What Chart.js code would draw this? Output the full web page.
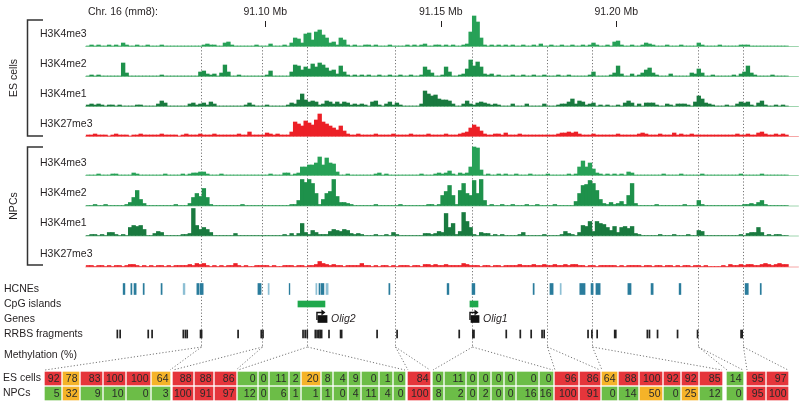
<!DOCTYPE html>
<html><head><meta charset="utf-8">
<script src="https://cdn.jsdelivr.net/npm/chart.js@4/dist/chart.umd.min.js"></script>
<style>html,body{margin:0;padding:0;background:#fff;}canvas{display:block;}</style>
</head><body>
<canvas id="c" width="800" height="404"></canvas>
<script>
// ================= DATA =================
const chromLabel = 'Chr. 16 (mm8):';
const tickKb = [91100, 91150, 91200];
const tickLabels = ['91.10 Mb', '91.15 Mb', '91.20 Mb'];
const binStartKb = 91049;   // first 1-kb bin
const binKb = 1;

const cellGroups = ['ES cells', 'NPCs'];
const trackNames = ['H3K4me3', 'H3K4me2', 'H3K4me1', 'H3K27me3'];

const esK4me3 = [
 0,1,0,1,0,0,1,0,1,0,3,1,0,0,1,0,0,1,0,0,
 0,1,0,0,0,0,0,0,0,0,0,0,0,1,2,1,1,0,0,3,
 4,1,0,0,0,0,0,0,1,0,0,0,2,0,0,0,1,0,3,8,
 7,3,12,13,6,14,16,11,8,3,4,1,8,6,1,0,1,0,0,1,
 1,0,1,0,0,0,1,0,0,0,0,1,0,1,0,1,2,0,0,1,
 1,0,1,0,1,0,0,1,2,14,30,24,8,1,0,1,0,1,0,1,
 0,1,0,0,1,0,0,1,0,2,0,0,1,0,0,1,0,0,1,0,
 0,1,0,1,3,1,0,0,1,0,4,5,1,0,0,1,0,0,1,3,
 2,1,0,0,0,1,0,0,0,1,0,0,0,0,3,1,0,0,0,0,
 1,0,0,0,0,0,1,1,1,0,0,0,0,0,0,0,0,0,0,0];
const esK4me2 = [
 0,1,0,1,0,0,0,0,0,0,13,3,0,0,0,0,0,0,0,0,
 0,1,0,0,0,0,0,0,0,0,0,0,4,5,2,1,2,0,3,11,
 4,0,0,1,0,0,0,0,0,0,0,1,5,0,0,0,0,0,4,11,
 10,6,9,7,12,9,13,11,8,5,6,2,10,4,1,0,1,0,1,0,
 1,0,0,1,0,0,1,0,0,1,0,0,1,0,0,1,9,6,3,0,
 0,1,9,4,0,0,1,2,7,16,10,14,9,2,1,2,0,1,0,0,
 0,1,0,0,1,0,0,1,0,0,1,0,0,0,1,0,0,1,0,0,
 0,0,0,1,4,0,0,0,0,1,3,10,2,0,0,2,0,1,3,6,
 8,3,1,0,0,0,2,0,0,0,0,0,3,2,7,3,0,0,1,0,
 0,0,0,0,1,0,2,4,10,3,1,0,0,0,0,1,0,0,0,0];
const esK4me1 = [
 1,2,1,2,1,0,1,1,0,1,0,0,0,0,1,1,0,0,0,0,
 2,5,3,0,0,0,0,0,0,2,3,1,2,3,1,4,2,0,0,0,
 0,0,0,0,0,1,3,1,0,0,0,1,0,0,0,0,0,1,3,2,
 6,12,6,4,5,4,1,2,5,4,2,4,2,4,3,1,2,1,2,1,
 0,4,5,1,0,2,4,1,3,1,0,0,0,0,0,2,15,12,10,11,
 7,6,6,5,2,0,0,2,5,2,1,3,4,3,2,1,2,1,0,0,
 0,2,0,0,0,2,0,0,0,0,2,0,0,0,1,2,2,4,7,2,
 5,4,1,2,3,0,1,0,1,0,0,1,0,3,5,3,0,2,0,3,
 3,3,1,0,0,2,1,0,2,2,2,1,0,4,10,7,3,2,1,0,
 0,0,1,0,0,2,4,3,4,1,0,3,5,1,0,0,1,0,1,0];
const esK27me3 = [
 1,1,2,1,1,1,0,1,2,1,1,1,0,1,1,2,1,1,1,1,
 1,2,1,1,1,1,0,1,2,1,1,1,2,1,1,1,2,1,1,1,
 1,1,1,2,1,1,4,1,1,1,1,3,2,1,2,1,1,1,4,14,
 12,10,15,13,11,16,22,14,12,10,8,6,10,5,2,1,1,2,1,1,
 1,1,2,1,1,1,1,2,1,1,1,1,2,1,1,1,1,2,1,1,
 1,1,2,1,1,1,2,3,4,8,11,9,5,2,1,1,2,2,1,3,
 1,1,1,2,1,1,1,1,1,1,1,1,1,1,2,3,3,4,3,4,
 2,1,1,1,2,1,1,1,1,1,1,2,1,1,1,1,1,2,3,2,
 1,1,1,2,1,1,1,3,1,2,1,1,2,1,1,1,1,1,1,1,
 1,1,1,1,1,2,1,1,2,1,1,3,4,2,1,1,2,1,2,1];
const npcK4me3 = [
 0,0,0,1,0,0,0,1,1,0,0,0,0,2,1,0,0,0,0,0,
 0,0,1,0,0,0,0,1,0,1,2,2,3,3,1,0,0,0,1,0,
 0,0,0,0,0,0,0,0,0,0,0,0,1,0,0,0,2,2,0,1,
 2,8,8,10,10,12,18,10,17,12,11,3,0,0,1,0,0,0,0,0,
 0,0,1,2,0,1,0,0,0,0,0,0,0,0,0,1,0,0,0,1,
 2,1,2,4,1,0,2,1,2,8,28,27,5,0,1,0,0,1,0,1,
 0,0,1,0,0,0,1,0,0,0,0,1,0,0,0,0,0,1,0,1,
 8,14,8,12,6,2,1,0,1,0,1,0,1,0,3,2,0,0,0,0,
 0,0,0,0,1,0,0,0,0,1,0,0,0,0,0,1,0,0,0,0,
 0,0,0,0,0,0,1,0,0,0,0,0,1,0,0,0,0,0,0,0];
const npcK4me2 = [
 0,0,1,0,0,1,0,0,0,0,0,1,3,8,15,6,2,0,0,0,
 0,0,0,0,0,1,0,0,0,2,8,12,9,17,8,1,0,0,0,0,
 0,0,0,0,1,0,0,0,0,0,0,0,0,0,0,0,0,0,1,1,
 5,26,23,26,22,12,1,6,12,14,26,9,3,3,2,1,0,0,0,0,
 0,0,1,0,0,0,0,0,0,1,0,0,0,0,0,0,0,1,1,0,
 1,10,14,20,10,1,15,22,12,10,25,12,26,5,0,1,0,0,1,0,
 0,1,0,0,0,1,0,0,1,0,0,0,0,1,0,0,0,0,0,4,
 12,20,21,25,22,15,6,2,1,3,1,2,4,1,10,22,2,0,0,0,
 0,0,1,0,0,0,0,0,0,0,1,0,0,0,5,1,0,0,0,0,
 0,0,0,0,0,0,0,1,1,2,1,3,5,1,0,0,0,0,0,0];
const npcK4me1 = [
 0,1,1,0,1,0,3,3,1,0,1,0,8,10,9,10,6,0,0,2,
 4,3,0,0,0,0,0,1,1,2,27,10,6,8,6,3,0,0,0,0,
 0,0,2,0,0,0,0,0,0,0,0,0,0,0,0,0,1,0,2,0,
 2,12,3,1,5,3,1,1,1,4,6,5,4,6,5,2,1,2,1,0,
 0,0,1,0,0,1,0,3,1,0,0,0,0,0,0,0,2,2,1,2,
 4,3,22,8,12,1,4,23,14,8,1,0,3,2,2,0,1,0,1,0,
 0,0,0,1,3,0,0,0,0,0,1,0,0,0,0,1,4,2,1,0,
 3,10,9,14,4,14,12,11,8,5,9,3,8,9,7,9,2,1,0,0,
 0,0,0,1,0,0,0,1,0,0,0,1,0,0,5,4,0,0,0,0,
 0,0,0,0,0,0,1,0,2,3,3,8,3,0,1,0,1,1,0,0];
const npcK27me3 = [
 1,1,0,1,1,0,1,0,1,1,0,1,2,2,1,0,1,0,1,0,
 1,1,0,1,0,1,1,1,1,2,1,3,2,3,1,0,1,0,1,0,
 1,1,3,1,0,1,0,0,1,1,1,1,0,1,0,0,1,1,1,0,
 1,1,0,1,1,2,5,3,2,1,2,1,1,0,1,1,1,1,3,1,
 1,0,1,0,1,1,0,1,0,1,1,1,0,1,1,0,2,2,1,2,
 1,1,2,1,1,1,1,3,2,1,1,1,0,1,1,0,1,1,0,1,
 1,1,1,2,1,1,1,2,1,1,2,1,1,2,1,1,2,1,2,2,
 1,1,0,1,1,0,1,1,1,1,1,0,1,0,1,1,1,1,0,1,
 1,0,1,1,0,1,1,0,1,0,1,1,0,1,1,0,1,0,0,0,
 0,1,0,2,1,1,2,1,2,2,1,1,2,3,2,1,2,3,2,2];

const annotRows = ['HCNEs', 'CpG islands', 'Genes', 'RRBS fragments'];
// HCNE intervals (kb) and whether strongly conserved
const hcnes = [[91059.5,91060.0],[91061.7,91062.0],[91062.6,91063.2],[91065.2,91065.5],[91070.3,91070.6],
 [91076.6,91077.1],[91080.5,91081.1],[91081.4,91082.3],[91097.9,91098.8],[91100.8,91101.1],[91106.8,91107.0],
 [91114.4,91114.7],[91115.3,91115.6],[91115.9,91116.7],[91117.3,91117.9],[91135.2,91135.5],[91151.8,91152.3],
 [91158.9,91159.7],[91176.3,91176.6],[91181.1,91182.0],[91184.0,91184.3],[91189.6,91191.1],[91192.8,91193.4],
 [91194.2,91195.4],[91203.3,91204.2],[91209.9,91210.5],[91217.9,91218.4],[91236.7,91237.6],[91241.0,91241.3]];
const hcneStrong = [1,1,1,1,1,0,1,1,1,0,1,0,1,1,0,1,1,1,1,1,0,1,1,1,1,1,1,1,1];
const cpgIslands = [[91109.3,91117.0],[91158.3,91160.6]];
const geneNames = ['Olig2', 'Olig1'];
const geneSpans = [[91115.0,91117.6],[91158.6,91160.9]];
const rrbsFragments = [[91057.7,91058.0],[91058.5,91058.8],[91066.5,91066.8],[91067.6,91067.9],[91076.5,91076.8],
 [91077.1,91077.4],[91077.6,91077.9],[91081.4,91082.0],[91092.1,91092.4],[91098.7,91099.0],[91099.2,91099.5],
 [91110.6,91110.9],[91111.2,91111.5],[91111.8,91112.1],[91114.1,91114.4],[91114.6,91114.9],[91115.1,91115.4],
 [91115.5,91115.8],[91115.9,91116.2],[91118.0,91118.3],[91121.3,91121.9],[91131.7,91132.0],[91137.4,91137.7],
 [91155.1,91155.4],[91159.0,91159.6],[91168.5,91168.8],[91172.5,91172.8],[91175.6,91175.9],[91178.7,91179.0],
 [91179.3,91179.6],[91191.8,91192.1],[91192.9,91193.2],[91194.4,91194.7],[91199.4,91200.0],[91208.7,91209.0],
 [91209.3,91209.6],[91211.6,91211.9],[91217.3,91217.6],[91223.0,91223.3],[91235.4,91236.0]];
// genomic positions of the regions expanded in the methylation table
const regionKb = [91081.8, 91099.1, 91111.9, 91137.0, 91158.9, 91180.3, 91193.1, 91223.3, 91236.1];
const groupSizes = [6, 3, 11, 1, 8, 2, 6, 1, 2];
const esMeth = [92,78,83,100,100,64, 88,88,86, 0,0,11,2,20,8,4,9,0,1,0, 84, 0,11,0,0,0,0,0,0, 96,86, 64,88,100,92,92,85, 14, 95,97];
const npcMeth = [5,32,9,10,0,3, 100,91,97, 12,0,6,1,1,1,0,4,11,4,0, 100, 8,2,0,2,0,0,16,16, 100,91, 0,14,50,0,25,12, 0, 95,100];

// ================= LAYOUT / STYLE =================
const W = 800, H = 404;
const PX_PER_KB = 3.51, PX_AT_91100 = 265.3;
const xMin = 91100 - PX_AT_91100 / PX_PER_KB, xMax = xMin + W / PX_PER_KB;
const baselines = [46, 76, 106, 136, 175, 205.5, 235.5, 266.5];
const trackColors = ['#27a157', '#1e914b', '#197a3f', '#ec2027'];
const baseColors = ['#9ed5ae', '#9ed5ae', '#9ed5ae', '#f6a6a6'];
const FONT = '"Liberation Sans", Arial, Helvetica, sans-serif';
const cellWidths = [16,16,21,21,23,18, 20,18,21, 19,9,18,10,18,10,13,11,16,12,11, 22, 10,20,10,11,11,10,21,13, 23,20, 15,19,22,16,16,22, 16, 18,21];
const groupGaps = [3,2,3,3,2,2,5,4];
const tableLeft = 45, cellGap = 2;
const methColor = v => v < 20 ? '#6cbd47' : (v <= 80 ? '#f5b328' : '#e5353b');

// pixel-unit helper for hidden linear axes spanning the whole canvas
function rowAxis(centerPx, pxPerUnit) {
  const min = -centerPx / pxPerUnit;
  return { type: 'linear', axis: 'y', display: false, reverse: true, offset: false, min, max: min + H / pxPerUnit };
}

// ----- datasets -----
const esTracks = [esK4me3, esK4me2, esK4me1, esK27me3];
const npcTracks = [npcK4me3, npcK4me2, npcK4me1, npcK27me3];
const allTracks = esTracks.concat(npcTracks);
const datasets = [];
const scales = {
  x: { type: 'linear', display: false, offset: false, min: xMin, max: xMax },
  xa: { type: 'linear', axis: 'x', display: false, offset: false, min: xMin, max: xMax },
  xt: { type: 'linear', axis: 'x', display: false, offset: false, min: 0, max: W },
  ya: rowAxis(289, 15),
  yt: rowAxis(378.5, 15)
};
allTracks.forEach((vals, k) => {
  const b = baselines[k];
  scales['y' + k] = { type: 'linear', display: false, offset: false, min: b - H, max: b };
  datasets.push({
    label: (k < 4 ? 'ES ' : 'NPC ') + trackNames[k % 4],
    data: vals.map((v, i) => ({ x: binStartKb + (i + 0.5) * binKb, y: v })),
    xAxisID: 'x', yAxisID: 'y' + k, grouped: false, barThickness: 3.7,
    backgroundColor: trackColors[k % 4], borderWidth: 0
  });
});
const annot = (label, spans, row, color, thick) => ({
  label, indexAxis: 'y', xAxisID: 'xa', yAxisID: 'ya', grouped: false, barThickness: thick,
  data: spans.map(s => ({ x: s, y: row })), backgroundColor: color, borderWidth: 0
});
datasets.push(annot('HCNEs', hcnes, 0, hcneStrong.map(s => s ? '#2a7c9c' : '#8dbfd4'), 11));
datasets.push(annot('CpG islands', cpgIslands, 1, '#1fa84c', 6));
datasets.push(annot('Genes', geneSpans, 2, '#111', 7));
datasets.push(annot('RRBS fragments', rrbsFragments, 3, '#222', 8));

// table cells
const cellSpans = [];
let pos = tableLeft, ci = 0;
groupSizes.forEach((n, g) => {
  for (let j = 0; j < n; j++) {
    cellSpans.push([pos, pos + cellWidths[ci]]);
    pos += cellWidths[ci] + cellGap; ci++;
  }
  if (g < groupGaps.length) pos += groupGaps[g] - cellGap;
});
const methIdx = datasets.length;
[esMeth, npcMeth].forEach((vals, r) => {
  datasets.push({
    label: cellGroups[r], indexAxis: 'y', xAxisID: 'xt', yAxisID: 'yt', grouped: false, barThickness: 13,
    data: vals.map((v, i) => ({ x: cellSpans[i], y: r })),
    backgroundColor: vals.map(methColor), borderWidth: 0
  });
});

// ================= DRAWING PLUGIN =================
function dotted(ctx, pts) {
  ctx.beginPath(); ctx.moveTo(pts[0][0], pts[0][1]);
  for (let i = 1; i < pts.length; i++) ctx.lineTo(pts[i][0], pts[i][1]);
  ctx.stroke();
}
const overlay = {
  id: 'overlay',
  beforeDatasetsDraw(chart) {
    const ctx = chart.ctx, x = chart.scales.x, xt = chart.scales.xt;
    ctx.save();
    const x0 = x.getPixelForValue(binStartKb) - 1, x1 = x.getPixelForValue(binStartKb + 203 * binKb);
    allTracks.forEach((v, k) => {
      const y = chart.scales['y' + k].getPixelForValue(0);
      ctx.strokeStyle = baseColors[k % 4]; ctx.lineWidth = 1;
      ctx.beginPath(); ctx.moveTo(x0, y + 0.5); ctx.lineTo(x1, y + 0.5); ctx.stroke();
    });
    // region lines + fan to table groups
    ctx.strokeStyle = '#777'; ctx.lineWidth = 1; ctx.setLineDash([1.2, 2]);
    let c = 0;
    regionKb.forEach((kb, g) => {
      const px = Math.round(x.getPixelForValue(kb)) + 0.5;
      const first = cellSpans[c], last = cellSpans[c + groupSizes[g] - 1];
      c += groupSizes[g];
      dotted(ctx, [[px, 47], [px, 347]]);
      dotted(ctx, [[px, 347], [xt.getPixelForValue(first[0]), 370]]);
      dotted(ctx, [[px, 347], [xt.getPixelForValue(last[1]), 370]]);
    });
    ctx.restore();
  },
  afterDatasetsDraw(chart) {
    const ctx = chart.ctx, x = chart.scales.x, xa = chart.scales.xa, ya = chart.scales.ya, yt = chart.scales.yt;
    ctx.save();
    ctx.fillStyle = '#231f20'; ctx.textBaseline = 'middle';
    ctx.font = '10.5px ' + FONT;
    // header
    ctx.textAlign = 'left'; ctx.fillText(chromLabel, 88, 12);
    ctx.textAlign = 'center';
    ctx.strokeStyle = '#231f20'; ctx.lineWidth = 1;
    tickKb.forEach((kb, i) => {
      const px = x.getPixelForValue(kb);
      ctx.fillText(tickLabels[i], px, 12);
      const p = Math.round(px) + 0.5;
      ctx.beginPath(); ctx.moveTo(p, 21); ctx.lineTo(p, 27); ctx.stroke();
    });
    // track labels
    ctx.textAlign = 'left';
    baselines.forEach((b, k) => ctx.fillText(trackNames[k % 4], 40, b - 12));
    // brackets
    ctx.strokeStyle = '#333'; ctx.lineWidth = 1.5;
    [[20, 136], [147, 265]].forEach(([t, bt], i) => {
      ctx.beginPath(); ctx.moveTo(43, t); ctx.lineTo(27.5, t); ctx.lineTo(27.5, bt); ctx.lineTo(43, bt); ctx.stroke();
      ctx.save(); ctx.translate(14, (t + bt) / 2); ctx.rotate(-Math.PI / 2);
      ctx.textAlign = 'center'; ctx.fillText(cellGroups[i], 0, 0); ctx.restore();
    });
    // annotation labels
    annotRows.forEach((name, r) => ctx.fillText(name, 4, ya.getPixelForValue(r)));
    ctx.fillText('Methylation (%)', 4, 355);
    // genes: TSS arrows + names
    const gy = ya.getPixelForValue(2);
    geneSpans.forEach((s, i) => {
      const gx = xa.getPixelForValue(s[0]), ge = xa.getPixelForValue(s[1]);
      ctx.strokeStyle = '#111'; ctx.lineWidth = 1.4;
      ctx.beginPath(); ctx.moveTo(gx - 1, gy + 1); ctx.lineTo(gx - 1, gy - 6.5); ctx.lineTo(gx + 4, gy - 6.5); ctx.stroke();
      ctx.fillStyle = '#111';
      ctx.beginPath(); ctx.moveTo(gx + 3.5, gy - 9.5); ctx.lineTo(gx + 7.5, gy - 6.5); ctx.lineTo(gx + 3.5, gy - 3.5); ctx.closePath(); ctx.fill();
      ctx.fillStyle = '#231f20'; ctx.font = 'italic 10.5px ' + FONT;
      ctx.fillText(geneNames[i], ge + 4, gy);
    });
    // table labels + values
    ctx.font = '10.5px ' + FONT;
    cellGroups.forEach((g, r) => ctx.fillText(g, 3, yt.getPixelForValue(r)));
    ctx.textAlign = 'right'; ctx.fillStyle = '#2a2a2a';
    [esMeth, npcMeth].forEach((vals, r) => {
      chart.getDatasetMeta(methIdx + r).data.forEach((el, i) => {
        const p = el.getProps(['x', 'base', 'y'], true);
        ctx.fillText(String(vals[i]), Math.max(p.x, p.base) - 1.5, p.y + 0.5);
      });
    });
    ctx.restore();
  }
};

new Chart(document.getElementById('c'), {
  type: 'bar',
  data: { datasets },
  options: {
    responsive: false, animation: false, devicePixelRatio: 1, events: [],
    layout: { padding: 0 },
    plugins: { legend: { display: false }, tooltip: { enabled: false }, title: { display: false } },
    scales
  },
  plugins: [overlay]
});
</script>
</body></html>
